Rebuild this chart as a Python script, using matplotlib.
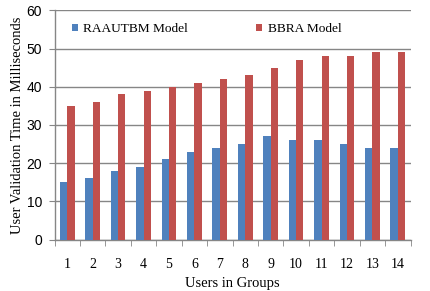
import numpy as np
import matplotlib
matplotlib.use("Agg")
import matplotlib.pyplot as plt
from matplotlib.patches import Patch

# data
groups = ['1', '2', '3', '4', '5', '6', '7', '8', '9', '10', '11', '12', '13', '14']
raautbm = [15, 16, 18, 19, 21, 23, 24, 25, 27, 26, 26, 25, 24, 24]
bbra = [35, 36, 38, 39, 40, 41, 42, 43, 45, 47, 48, 48, 49, 49]
series_names = ['RAAUTBM Model', 'BBRA Model']

blue = '#4F81BD'
red = '#C0504D'
grey = '#868686'

fig = plt.figure(figsize=(4.3, 2.91), dpi=100)
ax = fig.add_axes([54.5 / 430, 1 - 239.5 / 291, (410.5 - 54.5) / 430, (239.5 - 10.3) / 291])

x = np.arange(len(groups))
w = 0.29
ax.bar(x - w / 2, raautbm, width=w, color=blue, zorder=3)
ax.bar(x + w / 2, bbra, width=w, color=red, zorder=3)

ax.set_xlim(-0.5, len(groups) - 0.5)
ax.set_ylim(0, 60)
ax.set_yticks(range(0, 61, 10))
ax.yaxis.grid(True, color=grey, linewidth=1.0, zorder=0)
ax.set_axisbelow(True)

for s in ['top', 'right']:
    ax.spines[s].set_visible(False)
for s in ['left', 'bottom']:
    ax.spines[s].set_color(grey)
    ax.spines[s].set_linewidth(1.0)

# category labels at centres, tick marks between categories
ax.set_xticks(x)
ax.set_xticklabels(groups, fontfamily='Liberation Serif', fontsize=10)
ax.set_xticks(np.arange(-0.5, len(groups), 1.0), minor=True)
ax.tick_params(axis='x', which='major', length=0, pad=13)
ax.tick_params(axis='x', which='minor', length=4, color=grey, direction='out')
ax.tick_params(axis='y', length=4, color=grey, direction='out', pad=5)
for lab in ax.get_yticklabels():
    lab.set_fontfamily('Liberation Sans')
    lab.set_fontsize(10)

ax.set_xlabel('Users in Groups', fontfamily='Liberation Serif', fontsize=10.5, labelpad=5)
ax.set_ylabel('User Validation Time in Milliseconds', fontfamily='Liberation Serif', fontsize=10.5, labelpad=2)

handles = [Patch(facecolor=blue), Patch(facecolor=red)]
ax.legend(handles, series_names, loc='center left', bbox_to_anchor=(17.5 / 356, 0.918), ncol=2,
          frameon=False, borderpad=0, borderaxespad=0,
          handlelength=0.45, handleheight=0.45, handletextpad=0.4,
          columnspacing=5.1, prop={'family': 'Liberation Serif', 'size': 9.6})

fig.savefig('out.png', dpi=100)
